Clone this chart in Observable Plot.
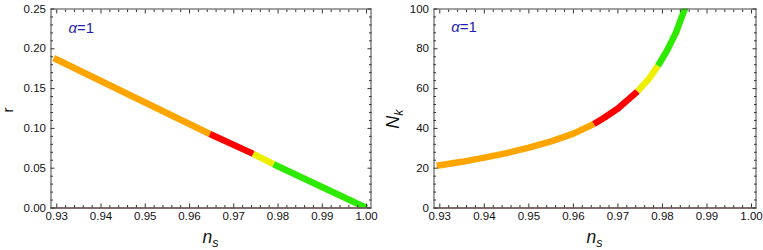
<!DOCTYPE html>
<html><head><meta charset="utf-8">
<script src="https://cdn.jsdelivr.net/npm/d3@7"></script>
<script src="https://cdn.jsdelivr.net/npm/@observablehq/plot@0.6"></script>
<style>
body{margin:0;background:#fff}
#wrap{position:relative;width:763px;height:250px;font-family:"Liberation Sans",Arial,sans-serif}
#wrap svg{position:absolute;top:0;overflow:visible}
</style></head><body><div id="wrap"></div>
<script>
// ---- data ----
const segmentColors = ["#FFA500", "#FF0000", "#EEEE00", "#2EEA00"];
const segmentBreaks = [0.9293, 0.9646, 0.9744, 0.979, 1.0];

// left panel: r vs n_s
const nsLeft = [0.9293, 0.9646, 0.9744, 0.979, 1.0];
const rLeft  = [0.1885, 0.093, 0.068, 0.055, 0.0];

// right panel: N_k vs n_s
const nsRight = [0.9293, 0.935, 0.94, 0.945, 0.95, 0.955, 0.96, 0.9646, 0.967, 0.97, 0.9744, 0.977, 0.979, 0.981, 0.983, 0.985, 0.9858];
const nRight  = [21.2, 23.2, 25.3, 27.6, 30.3, 33.5, 37.4, 42.2, 45.5, 50.0, 58.6, 65.0, 71.5, 79.0, 88.0, 100.0, 105.0];

const xTicks = [0.93, 0.94, 0.95, 0.96, 0.97, 0.98, 0.99, 1.00];
const xTickLabels = ["0.93", "0.94", "0.95", "0.96", "0.97", "0.98", "0.99", "1.00"];
const rTicks = [0, 0.05, 0.10, 0.15, 0.20, 0.25];
const rTickLabels = ["0.00", "0.05", "0.10", "0.15", "0.20", "0.25"];
const nTicks = [0, 20, 40, 60, 80, 100];
const nTickLabels = ["0", "20", "40", "60", "80", "100"];
const annotation = {greek: "α", rest: "=1"};

// ---- helpers ----
function segments(xs, ys) {
  const out = [];
  for (let i = 0; i < segmentColors.length; i++) {
    const lo = segmentBreaks[i], hi = i === segmentColors.length - 1 ? Infinity : segmentBreaks[i + 1];
    const rows = [];
    xs.forEach((x, j) => { if (x >= lo - 1e-9 && x <= hi + 1e-9) rows.push({x, y: ys[j]}); });
    out.push({color: segmentColors[i], rows});
  }
  return out;
}
function minors(majors, n) {
  const res = [];
  for (let i = 0; i < majors.length - 1; i++) {
    const a = majors[i], b = majors[i + 1];
    for (let k = 1; k < n; k++) res.push(a + (b - a) * k / n);
  }
  return res;
}
const blank = () => "";
const FONT = "'Liberation Sans', Arial, sans-serif";

function panel({left, width, ml, mr, yDomain, yTicks, yLabels, xs, ys, annX, annY, yTitle, yTitleX, yTitleY}) {
  const xFmt = d => xTickLabels[xTicks.findIndex(t => Math.abs(t - d) < 1e-9)];
  const yFmt = d => yLabels[yTicks.findIndex(t => Math.abs(t - d) < 1e-9)];
  const xMin = minors(xTicks, 5), yMin = minors(yTicks, 5);
  const segs = segments(xs, ys);
  const tickStroke = "#333";
  const plot = Plot.plot({
    width, height: 250,
    marginLeft: ml, marginRight: mr, marginTop: 8.5, marginBottom: 42.5,
    style: {fontFamily: FONT, fontSize: "11.5px", color: "#111", background: "transparent", overflow: "visible"},
    x: {domain: [0.9287, 1.001], label: null},
    y: {domain: yDomain, label: null},
    marks: [
      ...segs.map(s => Plot.line(s.rows, {x: "x", y: "y", stroke: s.color, strokeWidth: 6.5, strokeLinecap: "butt", strokeLinejoin: "round", clip: true})),
      Plot.ruleY([0], {stroke: "#7a2b2b", strokeWidth: 1.2}),
      Plot.frame({stroke: "#444", strokeWidth: 1}),
      Plot.axisX({ticks: xTicks, tickSize: 0, tickPadding: 4, tickFormat: xFmt, label: null, fontSize: 11.5, fill: "#111"}),
      Plot.axisX({ticks: xTicks, tickSize: -4, tickFormat: blank, label: null, stroke: tickStroke}),
      Plot.axisX({ticks: xMin, tickSize: -2.5, tickFormat: blank, label: null, stroke: tickStroke}),
      Plot.axisX({anchor: "top", ticks: xTicks, tickSize: -4, tickFormat: blank, label: null, stroke: tickStroke}),
      Plot.axisX({anchor: "top", ticks: xMin, tickSize: -2.5, tickFormat: blank, label: null, stroke: tickStroke}),
      Plot.axisY({ticks: yTicks, tickSize: 0, tickPadding: 5, tickFormat: yFmt, label: null, fontSize: 11.5, fill: "#111"}),
      Plot.axisY({ticks: yTicks, tickSize: -4, tickFormat: blank, label: null, stroke: tickStroke}),
      Plot.axisY({ticks: yMin, tickSize: -2.5, tickFormat: blank, label: null, stroke: tickStroke}),
      Plot.axisY({anchor: "right", ticks: yTicks, tickSize: -4, tickFormat: blank, label: null, stroke: tickStroke}),
      Plot.axisY({anchor: "right", ticks: yMin, tickSize: -2.5, tickFormat: blank, label: null, stroke: tickStroke})
    ]
  });
  plot.style.left = left + "px";
  const svg = d3.select(plot);
  const sx = plot.scale("x"), sy = plot.scale("y");
  // annotation alpha=1
  const t = svg.append("text")
    .attr("x", sx.apply(annX)).attr("y", sy.apply(annY))
    .attr("text-anchor", "middle")
    .attr("font-family", FONT)
    .attr("font-size", 15).attr("fill", "#1f1fb0");
  t.append("tspan").attr("font-style", "italic").text(annotation.greek);
  t.append("tspan").text(annotation.rest);
  // x title n_s
  const cx = (ml + width - mr) / 2;
  const xt = svg.append("text").attr("x", cx).attr("y", 242.5).attr("text-anchor", "middle")
    .attr("font-family", FONT).attr("fill", "#111");
  xt.append("tspan").attr("font-size", 17.5).attr("font-style", "italic").text("n");
  xt.append("tspan").attr("font-size", 12.5).attr("font-style", "italic").attr("dy", 4).text("s");
  // y title
  const yt = svg.append("text").attr("transform", `translate(${yTitleX},${yTitleY}) rotate(-90)`)
    .attr("text-anchor", "middle").attr("font-family", FONT).attr("fill", "#111");
  if (yTitle.sub) {
    yt.append("tspan").attr("font-size", 18).attr("font-style", "italic").text(yTitle.main);
    yt.append("tspan").attr("font-size", 12.5).attr("font-style", "italic").attr("dy", 4).text(yTitle.sub);
  } else {
    yt.append("tspan").attr("font-size", 15).text(yTitle.main);
  }
  return plot;
}

const wrap = document.getElementById("wrap");
wrap.appendChild(panel({
  left: 0, width: 381, ml: 50.5, mr: 10.5,
  yDomain: [0, 0.25], yTicks: rTicks, yLabels: rTickLabels,
  xs: nsLeft, ys: rLeft, annX: 0.93564, annY: 0.2195,
  yTitle: {main: "r"}, yTitleX: 13, yTitleY: 110
}));
wrap.appendChild(panel({
  left: 381, width: 382, ml: 52.5, mr: 7.5,
  yDomain: [0, 100], yTicks: nTicks, yLabels: nTickLabels,
  xs: nsRight, ys: nRight, annX: 0.93555, annY: 88.2,
  yTitle: {main: "N", sub: "k"}, yTitleX: 17.5, yTitleY: 119
}));
</script>
</body></html>
